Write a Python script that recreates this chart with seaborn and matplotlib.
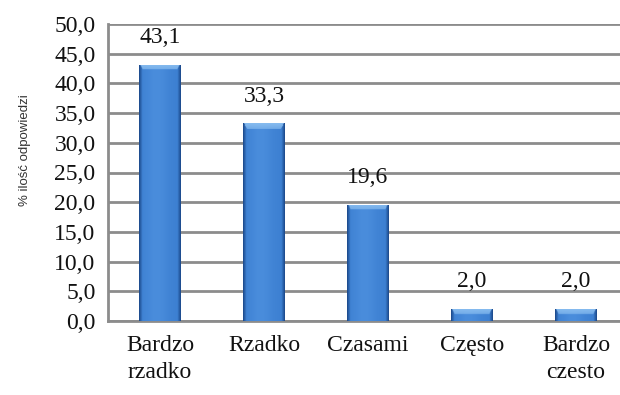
import numpy as np
import pandas as pd
import matplotlib
matplotlib.use("Agg")
import matplotlib.pyplot as plt
import seaborn as sns

# Survey answers and their shares (%)
categories = ["Bardzo\nrzadko", "Rzadko", "Czasami", "Często", "Bardzo\nczesto"]
values = [43.1, 33.3, 19.6, 2.0, 2.0]
y_ticks = [0, 5, 10, 15, 20, 25, 30, 35, 40, 45, 50]
y_label = "% ilość odpowiedzi"

sns.set_theme(style="white")
plt.rcParams["font.family"] = ["Liberation Serif", "DejaVu Serif"]

W, H = 620, 395
fig = plt.figure(figsize=(W / 100, H / 100), dpi=100)
fig.patch.set_facecolor("white")
left, right, top, bottom = 108, 628, 24, 321
ax = fig.add_axes([left / W, 1 - bottom / H, (right - left) / W, (bottom - top) / H])

df = pd.DataFrame({"kategoria": categories, "procent": values})
sns.barplot(data=df, x="kategoria", y="procent", color="#3a78c8", width=0.4,
            saturation=1, ax=ax, zorder=3, linewidth=0)

grid_col = "#8c8c8c"
ax.set_ylim(0, 50)
ax.set_xlim(-0.5, len(categories) - 0.5)

# Cylinder-like shading inside each bar
px_per_unit = (bottom - top) / 50.0
cap = 5.0 / px_per_unit
nx = 64
xs = np.linspace(0, 1, nx)
dark = np.array([0x1c, 0x4a, 0x8c]) / 255
mid = np.array([0x3d, 0x80, 0xd2]) / 255
light = np.array([0x4a, 0x8d, 0xdc]) / 255
prof = np.exp(-((xs - 0.42) / 0.28) ** 2)
edge = np.clip(np.minimum(xs, 1 - xs) / 0.08, 0, 1)
row = (dark[None, :] * (1 - edge[:, None]) +
       (mid[None, :] * (1 - prof[:, None]) + light[None, :] * prof[:, None]) * edge[:, None])
cap_col = np.array([0x86, 0xbb, 0xef]) / 255
for p in list(ax.patches):
    x0, y0 = p.get_x(), p.get_y()
    w, h = p.get_width(), p.get_height()
    ny = 200
    img = np.repeat(row[None, :, :], ny, axis=0)
    yy = np.linspace(h, 0, ny)
    capmask = yy > h - cap
    for i in np.where(capmask)[0]:
        d = (h - yy[i]) / cap
        inset = 0.06 * d + 0.02
        m = (xs > inset) & (xs < 1 - inset)
        img[i, m] = cap_col * (1 - 0.3 * d) + row[m] * 0.3 * d
    im = ax.imshow(img, extent=[x0, x0 + w, y0, y0 + h], aspect="auto",
                   zorder=4, interpolation="bilinear")
    im.set_clip_path(p)

ax.set_xlim(-0.5, len(categories) - 0.5)
ax.set_ylim(0, 50)

# Value labels above the bars
for i, v in enumerate(values):
    ax.annotate(f"{v:.1f}".replace(".", ","), (i, v), xytext=(0, 12),
                textcoords="offset points", ha="center", va="bottom",
                fontsize=17, color="#111111", zorder=5)

ax.set_yticks(y_ticks)
ax.set_yticklabels([f"{t:.1f}".replace(".", ",") for t in y_ticks])
ax.yaxis.grid(True, color=grid_col, linewidth=2.0, zorder=0)
ax.set_axisbelow(True)
ax.set_xticks(range(len(categories)))
ax.set_xticklabels(categories, linespacing=1.4)
ax.set_xticks(np.arange(0.5, len(categories) - 0.5 + 0.01, 1.0), minor=True)
ax.tick_params(axis="x", which="major", length=0, pad=10, labelsize=17, colors="#111111")
ax.tick_params(axis="x", which="minor", length=7, width=1.8, color=grid_col, direction="out")
ax.tick_params(axis="y", length=6, width=1.8, color=grid_col, pad=3, labelsize=17,
               labelcolor="#111111", direction="out")
for s in ["top", "right"]:
    ax.spines[s].set_visible(False)
for s in ["left", "bottom"]:
    ax.spines[s].set_color(grid_col)
    ax.spines[s].set_linewidth(2.0)

ax.set_xlabel("")
ax.set_ylabel("")
fig.text(25 / W, 1 - 150 / H, y_label, rotation=90, ha="center", va="center",
         fontsize=9.5, family=["Liberation Sans", "DejaVu Sans"], color="#333333")

fig.savefig("out.png", dpi=100, facecolor="white")
